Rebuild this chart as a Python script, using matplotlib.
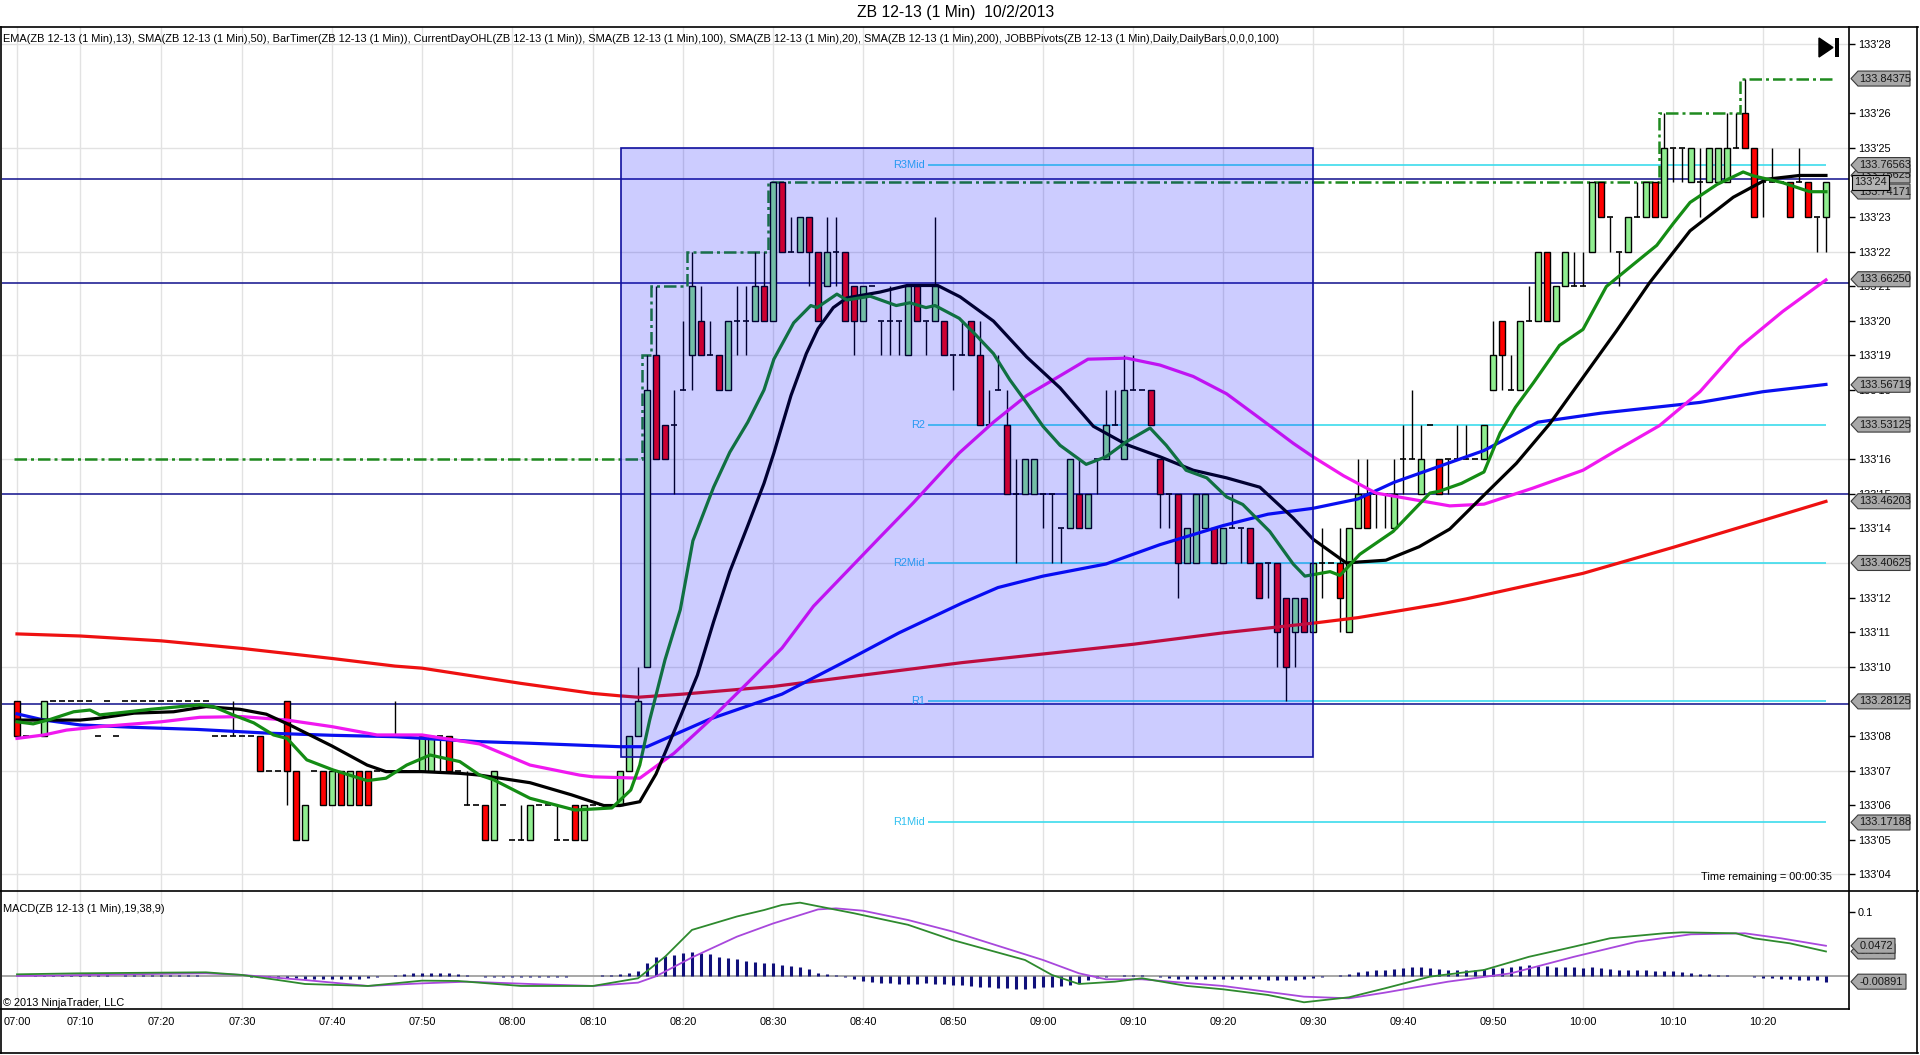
import numpy as np
import matplotlib
matplotlib.use("Agg")
import matplotlib.pyplot as plt
from matplotlib.lines import Line2D
from matplotlib.patches import Polygon, Rectangle

W, H = 1920, 1055
plt.rcParams['font.family'] = ['Liberation Sans', 'DejaVu Sans']
FS = 7.9  # small chart font (Arial 8 pt look)

BASE = 133.0          # prices are kept in 32nds above 133
TICK = 1.0 / 32

# time axis (bar index of each 10-minute label)
time_labels = ['07:00', '07:10', '07:20', '07:30', '07:40', '07:50', '08:00', '08:10', '08:20', '08:30', '08:40',
               '08:50', '09:00', '09:10', '09:20', '09:30', '09:40', '09:50', '10:00', '10:10', '10:20']
time_bars = [0, 7, 16, 25, 35, 45, 55, 64, 74, 84, 94, 104, 114, 124, 134, 144, 154, 164, 174, 184, 194]

# price labels on the right axis (32nds); the others sit under the value flags
axis_ticks = [4, 5, 6, 7, 8, 10, 11, 12, 14, 15, 16, 18, 19, 20, 21, 22, 23, 25, 26, 28]

# 1 min bars, in 32nds above 133
opens = [9, 8, 8, 8, 9, 9, 9, 9, 9, 8,
         9, 8, 9, 9, 9, 9, 9, 9, 9, 9,
         9, 9, 8, 8, 8, 8, 8, 8, 7, 7,
         9, 7, 5, 7, 7, 6, 7, 6, 7, 7,
         7, 7, 8, 7, 7, 7, 7, 8, 8, 7,
         6, 6, 6, 5, 6, 5, 5, 5, 6, 6,
         5, 5, 6, 5, 6, 6, 6, 6, 7, 8,
         10, 19, 17, 17, 18, 19, 20, 19, 19, 18,
         20, 20, 20, 21, 20, 24, 22, 22, 23, 22,
         21, 22, 22, 21, 20, 21, 20, 20, 20, 19,
         21, 20, 20, 20, 19, 19, 20, 19, 17, 18,
         17, 15, 15, 15, 15, 15, 14, 14, 15, 14,
         16, 16, 17, 16, 18, 18, 18, 16, 15, 15,
         13, 13, 14, 14, 13, 14, 14, 14, 13, 13,
         13, 12, 11, 12, 11, 13, 13, 13, 11, 14,
         15, 15, 15, 14, 16, 16, 15, 17, 16, 16,
         16, 16, 16, 16, 18, 20, 18, 18, 20, 20,
         22, 20, 21, 21, 21, 22, 24, 23, 22, 22,
         23, 23, 24, 23, 25, 25, 24, 24, 24, 24,
         24, 25, 26, 25, 24, 24, 24, 24, 24, 24,
         23, 23]
highs = [9, 8, 8, 9, 9, 9, 9, 9, 9, 8,
         9, 8, 9, 9, 9, 9, 9, 9, 9, 9,
         9, 9, 8, 8, 9, 8, 8, 8, 7, 7,
         9, 7, 6, 7, 7, 7, 7, 7, 7, 7,
         7, 7, 9, 7, 7, 8, 8, 8, 8, 7,
         7, 6, 6, 7, 6, 5, 6, 6, 6, 6,
         6, 5, 6, 6, 6, 6, 6, 7, 8, 10,
         19, 21, 17, 18, 20, 22, 21, 20, 19, 20,
         21, 21, 22, 22, 24, 24, 23, 23, 23, 22,
         23, 23, 22, 21, 21, 21, 20, 21, 20, 21,
         21, 20, 23, 20, 19, 20, 20, 20, 18, 19,
         18, 16, 16, 16, 15, 15, 14, 16, 16, 15,
         16, 18, 18, 19, 19, 18, 18, 16, 15, 15,
         14, 15, 15, 14, 14, 15, 14, 14, 13, 13,
         13, 12, 12, 12, 13, 14, 13, 14, 14, 16,
         16, 15, 15, 16, 17, 18, 17, 17, 16, 16,
         17, 17, 16, 17, 20, 20, 19, 20, 21, 22,
         22, 21, 22, 22, 22, 24, 24, 23, 22, 23,
         24, 24, 24, 26, 25, 25, 25, 25, 25, 25,
         26, 26, 27, 25, 24, 25, 24, 24, 25, 24,
         23, 24]
lows = [8, 8, 8, 8, 9, 9, 9, 9, 9, 8,
        9, 8, 9, 9, 9, 9, 9, 9, 9, 9,
        9, 9, 8, 8, 8, 8, 8, 7, 7, 7,
        6, 5, 5, 7, 6, 6, 6, 6, 6, 6,
        7, 7, 8, 7, 7, 7, 7, 7, 7, 7,
        6, 6, 5, 5, 6, 5, 5, 5, 6, 6,
        5, 5, 5, 5, 6, 6, 6, 6, 7, 8,
        10, 16, 16, 15, 18, 18, 19, 19, 18, 18,
        19, 19, 20, 20, 20, 22, 22, 22, 21, 20,
        21, 21, 20, 19, 20, 21, 19, 19, 19, 19,
        20, 19, 20, 19, 18, 19, 19, 17, 17, 18,
        15, 13, 15, 15, 14, 13, 13, 14, 14, 14,
        15, 16, 17, 16, 18, 18, 17, 14, 14, 12,
        13, 13, 14, 13, 13, 14, 13, 13, 12, 12,
        10, 9, 10, 11, 11, 12, 13, 11, 11, 14,
        14, 14, 14, 14, 15, 16, 15, 17, 15, 15,
        16, 16, 16, 16, 18, 18, 18, 18, 20, 20,
        20, 20, 21, 21, 21, 22, 23, 22, 21, 22,
        23, 23, 23, 23, 24, 24, 24, 23, 24, 24,
        24, 25, 25, 23, 23, 24, 24, 23, 24, 23,
        22, 22]
closes = [8, 8, 8, 9, 9, 9, 9, 9, 9, 8,
          9, 8, 9, 9, 9, 9, 9, 9, 9, 9,
          9, 9, 8, 8, 8, 8, 8, 7, 7, 7,
          7, 5, 6, 7, 6, 7, 6, 7, 6, 6,
          7, 7, 8, 7, 7, 8, 8, 8, 7, 7,
          6, 6, 5, 7, 6, 5, 5, 6, 6, 6,
          5, 5, 5, 6, 6, 6, 6, 7, 8, 9,
          18, 16, 16, 17, 18, 21, 19, 19, 18, 20,
          20, 20, 21, 20, 24, 22, 22, 23, 22, 20,
          22, 22, 20, 20, 21, 21, 20, 20, 20, 21,
          20, 20, 21, 19, 19, 19, 19, 17, 17, 18,
          15, 15, 16, 16, 15, 15, 14, 16, 14, 15,
          16, 17, 17, 18, 18, 18, 17, 15, 15, 13,
          14, 15, 15, 13, 14, 14, 14, 13, 12, 13,
          11, 10, 12, 11, 13, 13, 13, 12, 14, 15,
          14, 15, 15, 15, 16, 16, 16, 17, 15, 16,
          16, 16, 16, 17, 19, 19, 18, 20, 20, 22,
          20, 21, 22, 21, 21, 24, 23, 23, 22, 23,
          23, 24, 23, 25, 25, 25, 25, 24, 25, 25,
          25, 25, 25, 23, 24, 24, 24, 23, 24, 23,
          23, 24]

# indicator lines: (bar index, 32nds)
ema13_x = [0, 1.8, 3.7, 6.3, 8.1, 9.2, 11, 14.8, 20.3, 21.8, 24, 26.3, 28.5, 30, 32.2, 35.1, 38.9, 41, 43.3, 45.9,
           49.2, 51.4, 53, 57, 62, 66.1, 68.2, 69.2, 70.3, 72, 73.7, 75.1, 77.4, 79.2, 81.2, 83, 84.1, 86.3, 88.2,
           88.9, 91.1, 92.2, 94.8, 97.7, 99.2, 101, 102, 104.7, 106.5, 108.5, 110.3, 112.2, 114, 115.9, 118.8, 121,
           123.3, 125.9, 127.7, 129.9, 132.2, 134.4, 136.2, 139.2, 141.8, 143.1, 145.9, 147, 149.2, 152.9, 157, 158,
           160.5, 163, 164.8, 166.5, 168.5, 171.4, 174, 176.6, 179.6, 182.2, 184, 185.9, 188.9, 191.8, 192.9,
           196.2, 199.2, 201]
ema13_t = [8.41, 8.35, 8.48, 8.7, 8.75, 8.61, 8.66, 8.77, 8.9, 8.85, 8.61, 8.38, 8.03, 7.93, 7.31, 7.02, 6.71, 6.78,
           7.16, 7.45, 7.26, 6.87, 6.73, 6.2, 5.86, 5.92, 6.44, 7.16, 8.46, 10.2, 11.65, 13.64, 15.19, 16.2, 17.07,
           18.0, 18.89, 19.94, 20.44, 20.38, 20.77, 20.6, 20.71, 20.44, 20.52, 20.38, 20.44, 20.07, 19.6, 19.05,
           18.3, 17.62, 16.95, 16.4, 15.85, 16.07, 16.51, 16.9, 16.4, 15.68, 15.46, 14.91, 14.69, 13.91, 12.97,
           12.62, 12.75, 12.64, 13.25, 13.91, 15.02, 15.07, 15.3, 15.63, 16.76, 17.5, 18.21, 19.29, 19.75, 20.99,
           21.63, 22.18, 22.8, 23.42, 23.94, 24.3, 24.19, 23.99, 23.73, 23.73]

sma20_x = [0, 7, 9, 13, 17.4, 21, 24.8, 27.7, 30.3, 35, 38.9, 41, 45, 49.2, 51.4, 57, 61.6, 65.2, 67, 69.2, 71,
           73.7, 75.6, 77.4, 79.2, 81.2, 83, 84.1, 86, 87.7, 89, 90.7, 92.2, 95.9, 98.9, 102.3, 104.8, 108.5,
           112.2, 115.9, 119.6, 123.3, 127, 130.7, 134.4, 138.1, 141.8, 144, 147.7, 149.2, 152.1, 155.8, 158,
           159.2, 163, 166.6, 170.3, 174, 177.7, 181.4, 185.9, 190.7, 194.4, 198.1, 201]
sma20_t = [8.46, 8.46, 8.51, 8.66, 8.7, 8.85, 8.77, 8.63, 8.32, 7.71, 7.16, 6.97, 6.97, 6.92, 6.87, 6.65, 6.3, 5.99,
           5.99, 6.1, 6.9, 8.55, 9.76, 11.3, 12.75, 14.08, 15.3, 16.18, 17.84, 19.05, 19.77, 20.38, 20.66, 20.83,
           21.02, 21.02, 20.69, 19.99, 18.95, 18.06, 16.95, 16.42, 16.07, 15.68, 15.46, 15.19, 14.3, 13.69, 13.0,
           13.03, 13.08, 13.47, 13.8, 13.98, 14.96, 15.88, 17.02, 18.36, 19.7, 21.1, 22.6, 23.57, 24.09, 24.2, 24.2]

sma50_x = [0, 3, 5.5, 9.2, 16, 20.3, 25, 30, 35, 40, 45, 51.4, 57, 62.5, 64, 69.2, 73, 77, 81.2, 85, 88.5, 92.2,
           95.9, 99.6, 104.7, 108.5, 112.2, 115.9, 119, 123.3, 127, 130.7, 134.4, 138.1, 141.8, 144, 147.4, 151,
           153.7, 159.2, 163, 168.4, 174, 177.7, 182.5, 187, 191.4, 196.2, 201]
sma50_t = [7.93, 8.03, 8.17, 8.27, 8.41, 8.54, 8.56, 8.46, 8.27, 8.03, 8.03, 7.77, 7.16, 6.87, 6.82, 6.78, 7.5,
           8.46, 9.54, 10.54, 11.75, 12.75, 13.75, 14.74, 16.18, 17.07, 17.84, 18.41, 18.89, 18.92, 18.72, 18.39,
           17.89, 17.18, 16.46, 16.07, 15.52, 15.02, 14.9, 14.65, 14.7, 15.16, 15.68, 16.25, 16.97, 17.95, 19.24,
           20.27, 21.18]

sma100_x = [0, 3, 7, 13, 20, 28, 35, 42, 51, 57, 67, 70, 77, 85, 92, 98, 105, 109, 114, 121, 127, 134, 139, 144,
            149, 153, 158, 163, 169, 176, 187, 194, 201]
sma100_t = [8.64, 8.46, 8.32, 8.25, 8.19, 8.08, 8.02, 7.98, 7.84, 7.79, 7.69, 7.69, 8.49, 9.21, 10.15, 10.98, 11.84,
            12.29, 12.62, 12.97, 13.53, 14.08, 14.41, 14.58, 14.85, 15.33, 15.79, 16.25, 17.07, 17.33, 17.64, 17.95,
            18.16]

sma200_x = [0, 7, 16, 25, 35, 42, 45, 51, 56, 64, 67, 69, 74, 84, 94, 105, 114, 124, 134, 144, 149, 158, 161, 174,
            184, 194, 201]
sma200_t = [10.95, 10.89, 10.75, 10.53, 10.24, 10.02, 9.96, 9.72, 9.52, 9.23, 9.16, 9.12, 9.21, 9.43, 9.76, 10.12,
            10.37, 10.65, 10.98, 11.26, 11.42, 11.81, 11.96, 12.7, 13.45, 14.23, 14.78]

# current day high (step line)
hod_edges = [-0.3, 69.5, 70.5, 74.5, 83.5, 182.5, 191.5, 201.7]
hod_levels = [16, 19, 21, 22, 24, 26, 27]

# JOBB pivots
pivot_names = ['R3Mid', 'R2', 'R2Mid', 'R1', 'R1Mid']
pivot_levels = [24.5, 17, 13, 9, 5.5]

# user drawn lines / rectangle
navy_levels = [24.1, 21.1, 15.0, 8.93]
box_bars = (67.1, 144.0)
box_levels = (7.4, 25.0)

# price markers on the right axis
price_flags = ['133.75625', '133.76563', '133.84375', '133.74171', '133.66250', '133.56719',
               '133.53125', '133.46203', '133.40625', '133.28125', '133.17188']
last_price = 24

# MACD(19,38,9)
macd_x = [0, 7, 16, 21, 25, 29, 32, 39, 45, 49, 56, 64, 69, 72, 75, 80, 83, 85, 87, 89, 93, 99, 104, 112, 115,
          118, 122, 125, 130, 134, 139, 143, 148, 152, 157, 163, 168, 173, 177, 183, 185, 191, 193, 197, 201]
macd_v = [0.0026, 0.0042, 0.0052, 0.0057, 0.0016, -0.0063, -0.0125, -0.0156, -0.0073, -0.0078, -0.0156, -0.0156,
          -0.0036, 0.030, 0.072, 0.093, 0.103, 0.111, 0.1146, 0.109, 0.098, 0.080, 0.056, 0.025, 0.0016, -0.0125,
          -0.0089, -0.0036, -0.0156, -0.0208, -0.0297, -0.0411, -0.0333, -0.0193, -0.001, 0.0094, 0.030, 0.0458,
          0.0589, 0.0667, 0.0682, 0.0667, 0.0589, 0.051, 0.0383]
signal_x = [0, 12, 21, 25, 32, 39, 45, 50, 57, 64, 69, 71, 75, 80, 84, 89, 91, 94, 99, 104, 114, 118, 121, 125,
            134, 143, 148, 152, 159, 166, 173, 180, 186, 192, 196, 201]
signal_v = [0.0, 0.0026, 0.0042, 0.0016, -0.0063, -0.0156, -0.0115, -0.0089, -0.0125, -0.0156, -0.0104, -0.0005,
            0.029, 0.0615, 0.082, 0.104, 0.1057, 0.102, 0.0875, 0.0693, 0.025, 0.0042, -0.0052, -0.0052, -0.0156,
            -0.0323, -0.0349, -0.026, -0.0089, 0.0042, 0.030, 0.0536, 0.0651, 0.0667, 0.0589, 0.0472]
# histogram, one value per bar (thousandths)
hist_milli = [0, 0.5, 0.8, 1.2, 1.5, 1.6, 1.5, 1.3, 1.2, 1.0,
              0.8, 0.6, 0.8, 1.0, 1.1, 1.2, 1.2, 1.1, 1.0, 0.9,
              0.8, 0.6, 0.4, 0.0, -0.4, -0.8, -1.2, -1.6, -2.2, -2.8,
              -3.3, -3.9, -4.4, -4.9, -5.2, -5.3, -5.2, -4.9, -4.4, -3.5,
              -2.0, -0.5, 1.5, 3.0, 4.0, 4.6, 4.8, 4.6, 4.0, 3.0,
              1.5, -0.5, -1.2, -1.0, -1.2, -1.5, -1.6, -1.4, -1.5, -1.6,
              -1.5, -1.2, -0.8, -0.2, 0.5, 1.0, 1.8, 2.8, 4.5, 8.0,
              20.8, 29.2, 31.3, 32.8, 35.4, 38.0, 36.5, 34.4, 29.2, 27.6,
              26.0, 23.4, 22.4, 20.8, 19.8, 17.2, 15.6, 14.6, 10.4, 5.2,
              2.6, 1.0, -2.0, -5.2, -7.3, -8.9, -10.4, -11.5, -12.0, -12.0,
              -12.0, -11.5, -12.5, -13.0, -13.5, -14.0, -15.0, -16.7, -17.7, -19.3,
              -19.3, -20.8, -20.8, -19.3, -17.7, -16.7, -15.6, -14.0, -10.4, -6.3,
              -3.6, -2.1, 0.5, 1.0, 1.0, 0.8, 0.5, -1.0, -3.0, -5.2,
              -5.2, -5.2, -4.2, -4.2, -4.2, -4.7, -4.7, -5.2, -5.2, -5.7,
              -6.3, -6.8, -6.3, -5.2, -3.6, -2.1, -0.5, 1.0, 3.6, 5.7,
              7.3, 8.9, 9.9, 10.9, 12.5, 13.5, 14.1, 12.0, 10.9, 9.9,
              8.9, 8.9, 9.9, 10.9, 12.0, 12.5, 14.1, 16.1, 17.7, 16.1,
              15.1, 14.1, 14.1, 14.1, 13.0, 14.1, 12.5, 10.9, 9.9, 8.9,
              8.9, 8.9, 8.4, 7.8, 7.3, 5.7, 4.7, 3.6, 3.1, 2.1,
              1.6, 0.5, -0.5, -2.1, -2.6, -3.6, -4.2, -5.2, -6.3, -6.8,
              -6.3, -8.9]
macd_flags = ['0.0383', '0.0472', '-0.00891']


def price(t):
    return BASE + np.asarray(t, dtype=float) * TICK


def fx(x):
    return x / W


def fy(y):
    return 1 - y / H


fig = plt.figure(figsize=(W / 100, H / 100), dpi=100, facecolor='white')

# panels (pixel boxes)
ax = fig.add_axes([fx(2), fy(891), (1849 - 2) / W, (891 - 27) / H])
mx = fig.add_axes([fx(2), fy(1009), (1849 - 2) / W, (1009 - 891) / H])
for a in (ax, mx):
    a.set_xlim(-1.667, 203.56)
    for s in a.spines.values():
        s.set_visible(False)
    a.set_facecolor('white')
ax.set_ylim(price(3.52), price(28.49))
mx.set_ylim(-0.0516, 0.1328)

# grid
for a in (ax, mx):
    for b in time_bars:
        a.axvline(b, color='#e2e2e2', lw=1, zorder=0)
for t in range(4, 29, 3):
    ax.axhline(price(t), color='#e2e2e2', lw=1, zorder=0)

# price axis
ax.yaxis.tick_right()
ax.set_yticks(price(axis_ticks))
ax.set_yticklabels(["133'%02d" % t for t in axis_ticks])
ax.tick_params(axis='y', length=4, width=1, pad=2.5, labelsize=FS, colors='black')
ax.tick_params(axis='x', length=0, labelbottom=False)
ax.set_xticks(time_bars)

mx.yaxis.tick_right()
mx.set_yticks([0.1])
mx.set_yticklabels(['0.1'])
mx.tick_params(axis='y', length=4, width=1, pad=2.5, labelsize=FS)
mx.set_xticks(time_bars)
mx.set_xticklabels(time_labels)
mx.tick_params(axis='x', length=0, pad=6, labelsize=FS)

# horizontal lines
for lv in navy_levels:
    ax.axhline(price(lv), color='#10108c', lw=1.1, zorder=2)

# current day high
ax.stairs(price(hod_levels), hod_edges, baseline=None, color='#1f8a1f', lw=1.8,
          linestyle=(0, (5, 1.6, 1.2, 1.6)), zorder=2)

# pivots
for name, lv in zip(pivot_names, pivot_levels):
    ax.hlines(price(lv), 101.2, 201.0, color='#3cdcec', lw=1.2, zorder=2)
    ax.text(100.9, price(lv), name, ha='right', va='center', fontsize=FS, color='#30c0f0', zorder=2)

# candles
o = np.array(opens)
hi = np.array(highs)
lo = np.array(lows)
c = np.array(closes)
idx = np.arange(len(o))
up = c > o
dn = c < o
dj = c == o
ax.vlines(idx, price(lo), price(hi), color='black', lw=1, zorder=3)
ax.bar(idx[up], price(c[up]) - price(o[up]), bottom=price(o[up]), width=0.72,
       color='#90ee90', edgecolor='black', lw=1, zorder=4)
ax.bar(idx[dn], price(o[dn]) - price(c[dn]), bottom=price(c[dn]), width=0.72,
       color='#ff0000', edgecolor='black', lw=1, zorder=4)
ax.hlines(price(o[dj]), idx[dj] - 0.36, idx[dj] + 0.36, color='black', lw=1.2, zorder=4)

# moving averages
ax.plot(sma200_x, price(sma200_t), color='#ee1111', lw=2.3, zorder=5)
ax.plot(sma100_x, price(sma100_t), color='#0a10f0', lw=2.3, zorder=5)
ax.plot(sma50_x, price(sma50_t), color='#f018f0', lw=2.3, zorder=5)
ax.plot(sma20_x, price(sma20_t), color='black', lw=2.3, zorder=6)
ax.plot(ema13_x, price(ema13_t), color='#148c14', lw=2.3, zorder=6)

# translucent rectangle drawn over everything
ax.add_patch(Rectangle((box_bars[0], price(box_levels[0])), box_bars[1] - box_bars[0],
                       price(box_levels[1]) - price(box_levels[0]),
                       facecolor=(0, 0, 1, 0.2), edgecolor='#1010a0', lw=1.2, zorder=20))

# MACD panel
mx.axhline(0, color='#a0a0a0', lw=1.3, zorder=1)
hv = np.array(hist_milli) / 1000.0
mx.vlines(np.arange(len(hv)), 0, hv, color='#10107a', lw=2.2, zorder=2)
mx.plot(signal_x, signal_v, color='#a848dc', lw=1.3, zorder=3)
mx.plot(macd_x, macd_v, color='#2e8a2e', lw=1.3, zorder=4)


# frame lines
def fline(x0, y0, x1, y1, lw=1.2):
    fig.add_artist(Line2D([fx(x0), fx(x1)], [fy(y0), fy(y1)], color='black', lw=lw, zorder=10))


fline(0, 27, 1918, 27)
fline(0, 891, 1918, 891)
fline(0, 1009, 1849, 1009)
fline(1, 27, 1, 1053)
fline(1917, 27, 1917, 1053)
fline(0, 1053, 1918, 1053)
fline(1849, 27, 1849, 1009)

# value flags on the axes
zf = [40]


def flag(a, val, text, width, face='#a8a8a8'):
    yd = a.transData.transform((0, val))[1]
    yc = H - yd
    x0, tip, hh = 1851, 7, 7.5
    pts = [(x0, yc), (x0 + tip, yc - hh), (x0 + width, yc - hh), (x0 + width, yc + hh), (x0 + tip, yc + hh)]
    fig.add_artist(Polygon([(fx(p), fy(q)) for p, q in pts], closed=True, facecolor=face,
                           edgecolor='#3a3a3a', lw=0.8, zorder=zf[0]))
    fig.text(fx(x0 + tip + 1.5), fy(yc), text, ha='left', va='center', fontsize=FS,
             color='#161616', zorder=zf[0] + 0.5)
    zf[0] += 1


for s in price_flags:
    flag(ax, float(s), s, 59)
# last price box
yl = H - ax.transData.transform((0, price(last_price)))[1]
fig.text(fx(1854), fy(yl), "133'%02d" % last_price, ha='left', va='center', fontsize=FS, color='#161616',
         zorder=zf[0] + 1,
         bbox=dict(boxstyle='square,pad=0.2', facecolor='#b4b4b4', edgecolor='black', lw=0.8))
for s in macd_flags:
    flag(mx, float(s), s, 11 + 5.5 * len(s))

# texts
fig.text(fx(956), fy(12), 'ZB 12-13 (1 Min)  10/2/2013', ha='center', va='center', fontsize=11.3)
header = ('EMA(ZB 12-13 (1 Min),13), SMA(ZB 12-13 (1 Min),50), BarTimer(ZB 12-13 (1 Min)), '
          'CurrentDayOHL(ZB 12-13 (1 Min)), SMA(ZB 12-13 (1 Min),100), SMA(ZB 12-13 (1 Min),20), '
          'SMA(ZB 12-13 (1 Min),200), JOBBPivots(ZB 12-13 (1 Min),Daily,DailyBars,0,0,0,100)')
fig.text(fx(3), fy(39), header, ha='left', va='center', fontsize=FS, zorder=30)
fig.text(fx(1832), fy(877), 'Time remaining = 00:00:35', ha='right', va='center', fontsize=FS, zorder=30)
fig.text(fx(3), fy(909), 'MACD(ZB 12-13 (1 Min),19,38,9)', ha='left', va='center', fontsize=FS, zorder=30)
fig.text(fx(3), fy(1003), '\u00a9 2013 NinjaTrader, LLC', ha='left', va='center', fontsize=FS, zorder=30)

# "go to last bar" icon
fig.add_artist(Polygon([(fx(1819), fy(38)), (fx(1819), fy(57)), (fx(1833), fy(47.5))], closed=True,
                       facecolor='black', edgecolor='black', zorder=30))
fig.add_artist(Rectangle((fx(1835), fy(57)), 4 / W, 19 / H, facecolor='black', zorder=30))

fig.savefig('out.png', dpi=100, facecolor='white')
